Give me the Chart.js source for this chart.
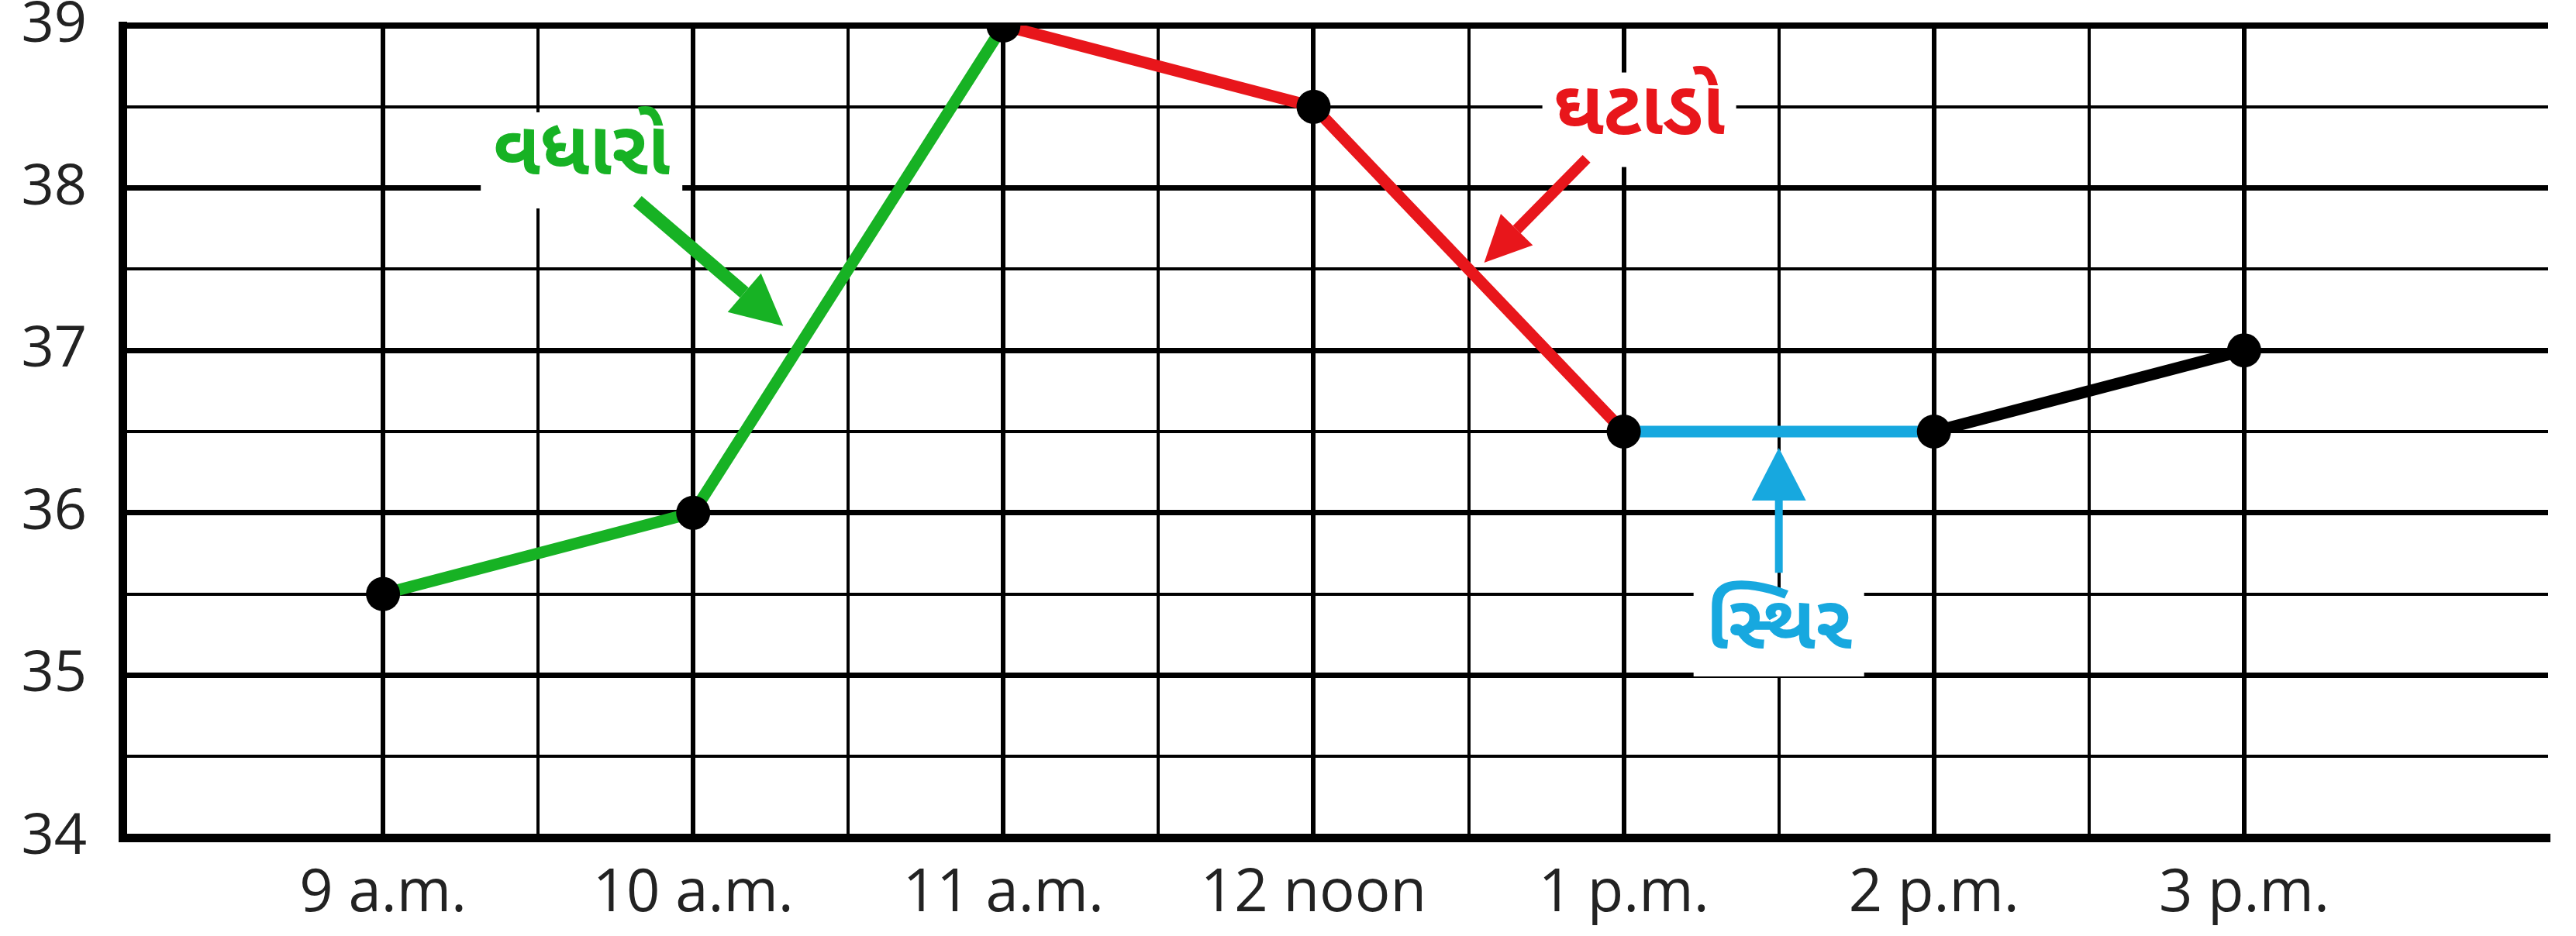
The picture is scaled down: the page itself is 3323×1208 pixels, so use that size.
<!DOCTYPE html>
<html>
<head>
<meta charset="utf-8">
<script src="https://cdn.jsdelivr.net/npm/chart.js@4.4.1/dist/chart.umd.min.js"></script>
<style>
  html, body { margin: 0; padding: 0; background: #fff; }
  #wrap { width: 3323px; height: 1208px; position: relative; }
</style>
</head>
<body>
<div id="wrap"><canvas id="tempChart"></canvas></div>
<script>
// data
const times = ["9 a.m.", "10 a.m.", "11 a.m.", "12 noon", "1 p.m.", "2 p.m.", "3 p.m."];
const temps = [35.5, 36, 39, 38.5, 36.5, 36.5, 37];
const yTicks = [34, 35, 36, 37, 38, 39];

// annotation labels
const labelUp = "વધારો";
const labelDown = "ઘટાડો";
const labelFlat = "સ્થિર";

const GREEN = "#17b224";
const RED = "#e8161b";
const BLUE = "#17a8df";
const segColors = [GREEN, GREEN, RED, RED, BLUE, "#000"];

const gujFont = "'Noto Sans Gujarati', 'Lohit Gujarati', 'Noto Sans', sans-serif";

function arrow(ctx, x1, y1, x2, y2, color, w, headLen, headW) {
  const ang = Math.atan2(y2 - y1, x2 - x1);
  const bx = x2 - Math.cos(ang) * headLen;
  const by = y2 - Math.sin(ang) * headLen;
  ctx.save();
  ctx.strokeStyle = color;
  ctx.fillStyle = color;
  ctx.lineWidth = w;
  ctx.beginPath();
  ctx.moveTo(x1, y1);
  ctx.lineTo(bx, by);
  ctx.stroke();
  ctx.beginPath();
  ctx.moveTo(x2, y2);
  ctx.lineTo(bx + Math.sin(ang) * headW / 2, by - Math.cos(ang) * headW / 2);
  ctx.lineTo(bx - Math.sin(ang) * headW / 2, by + Math.cos(ang) * headW / 2);
  ctx.closePath();
  ctx.fill();
  ctx.restore();
}

function label(ctx, text, cx, cy, bw, bh, color) {
  ctx.save();
  ctx.fillStyle = "#fff";
  ctx.fillRect(cx - bw / 2, cy - bh / 2, bw, bh);
  ctx.fillStyle = color;
  ctx.font = "bold 98px " + gujFont;
  ctx.textAlign = "center";
  ctx.textBaseline = "middle";
  ctx.fillText(text, cx, cy);
  ctx.restore();
}

const notes = {
  id: "notes",
  afterDraw(chart) {
    const ctx = chart.ctx;
    const x = chart.scales.x, y = chart.scales.y;
    const px = v => x.getPixelForValue(v);
    const py = v => y.getPixelForValue(v);
    label(ctx, labelUp, px(0.64), py(38.17), 260, 124, GREEN);
    arrow(ctx, px(0.82), py(37.92), px(1.29), py(37.15), GREEN, 17, 66, 66);
    label(ctx, labelDown, px(4.05), py(38.42), 250, 122, RED);
    arrow(ctx, px(3.88), py(38.18), px(3.55), py(37.54), RED, 14, 60, 58);
    arrow(ctx, px(4.5), py(35.63), px(4.5), py(36.4), BLUE, 10, 68, 70);
    label(ctx, labelFlat, px(4.5), py(35.25), 220, 108, BLUE);
  }
};

new Chart(document.getElementById("tempChart"), {
  type: "line",
  data: {
    datasets: [{
      data: temps.map((t, i) => ({ x: i, y: t })),
      borderWidth: 15,
      borderColor: "#000",
      segment: { borderColor: c => segColors[c.p0DataIndex] },
      pointRadius: 22,
      pointBackgroundColor: "#000",
      pointBorderWidth: 0,
      pointHoverRadius: 22,
      tension: 0
    }]
  },
  options: {
    responsive: true,
    maintainAspectRatio: false,
    animation: false,
    devicePixelRatio: 1,
    layout: { padding: { top: 33, right: 36, left: 0, bottom: 0 } },
    plugins: { legend: { display: false }, tooltip: { enabled: false } },
    scales: {
      x: {
        type: "linear",
        min: -0.84,
        max: 6.98,
        afterBuildTicks: s => {
          const t = [];
          for (let v = 0; v <= times.length - 1; v += 0.5) t.push({ value: v });
          s.ticks = t;
        },
        afterFit: s => { s.height = 127; s.paddingLeft = 0; s.paddingRight = 0; },
        grid: {
          color: "#000",
          lineWidth: c => (c.tick && Number.isInteger(c.tick.value)) ? 6 : 4,
          drawTicks: false
        },
        border: { color: "#000", width: 11 },
        ticks: {
          autoSkip: false,
          maxRotation: 0,
          padding: 28,
          color: "#222",
          font: { family: "'Open Sans', sans-serif", size: 76 },
          callback: v => Number.isInteger(v) ? times[v] : ""
        }
      },
      y: {
        min: yTicks[0],
        max: yTicks[yTicks.length - 1],
        afterBuildTicks: s => {
          const t = [];
          for (let v = yTicks[0]; v <= yTicks[yTicks.length - 1]; v += 0.5) t.push({ value: v });
          s.ticks = t;
        },
        afterFit: s => { s.width = 158; s.paddingTop = 0; s.paddingBottom = 0; },
        grid: {
          color: "#000",
          lineWidth: c => {
            if (!c.tick) return 4;
            if (c.tick.value === yTicks[yTicks.length - 1]) return 8;
            return Number.isInteger(c.tick.value) ? 7 : 4;
          },
          drawTicks: false
        },
        border: { color: "#000", width: 11 },
        ticks: {
          padding: 46,
          color: "#222",
          font: { family: "'Open Sans', sans-serif", size: 74 },
          callback: v => Number.isInteger(v) ? String(v) : ""
        }
      }
    }
  },
  plugins: [notes]
});
</script>
</body>
</html>
